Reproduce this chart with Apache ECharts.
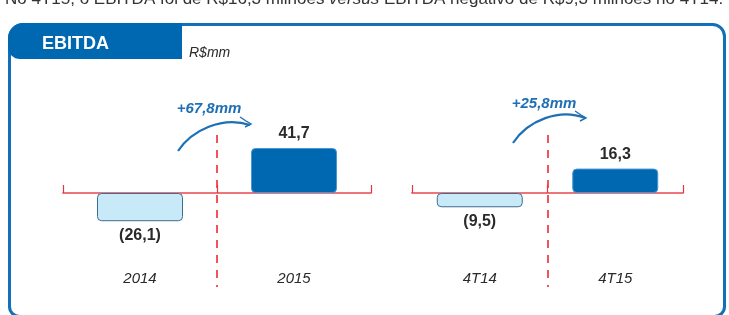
<!DOCTYPE html>
<html>
<head>
<meta charset="utf-8">
<script src="https://cdn.jsdelivr.net/npm/echarts@6/dist/echarts.min.js"></script>
<style>
  html, body { margin: 0; padding: 0; background: #fff; }
  #main { width: 729px; height: 315px; }
</style>
</head>
<body>
<div id="main"></div>
<script>
// dados
const anoCats = ['2014', '2015'];
const anoValores = [-26.1, 41.7];
const triCats = ['4T14', '4T15'];
const triValores = [-9.5, 16.3];

const RED = '#ee1c28';
const BLUE = '#0068b0';

// 41,7 / (26,1)
function fmt(v) {
  const s = Math.abs(v).toFixed(1).replace('.', ',');
  return v < 0 ? '(' + s + ')' : s;
}
function delta(arr) {
  return '+' + (arr[1] - arr[0]).toFixed(1).replace('.', ',') + 'mm';
}

function barData(vals) {
  return vals.map(v => ({
    value: v,
    itemStyle: v < 0
      ? { color: '#c8e9f8', borderColor: '#3c6e91', borderWidth: 1 }
      : { color: BLUE, borderColor: '#4a97d4', borderWidth: 1 },
    label: { position: v < 0 ? 'bottom' : 'top' }
  }));
}

// eixo da linha zero (linha vermelha + tracejado)
function xAxisFor(idx, cats) {
  return {
    type: 'category',
    gridIndex: idx,
    data: cats,
    axisLine: { onZero: true, lineStyle: { color: '#ef7479', width: 1.8 } },
    axisTick: { show: true, inside: true, length: 8, lineStyle: { color: '#e4363f', width: 1.2 } },
    axisLabel: { show: false },
    splitLine: {
      show: true,
      showMinLine: false,
      showMaxLine: false,
      lineStyle: { color: RED, width: 1.5, type: [8, 7] }
    }
  };
}

// eixo so para os rotulos das categorias
function labelAxisFor(idx, cats) {
  return {
    type: 'category',
    gridIndex: idx,
    data: cats,
    position: 'bottom',
    offset: -16,
    axisLine: { show: false, onZero: false },
    axisTick: { show: false },
    splitLine: { show: false },
    axisLabel: {
      margin: 0,
      color: '#2a2a2a',
      fontStyle: 'italic',
      fontSize: 15,
      fontFamily: 'Liberation Sans'
    }
  };
}

function serieFor(idx, vals) {
  return {
    type: 'bar',
    xAxisIndex: idx,
    yAxisIndex: idx,
    barWidth: 86,
    data: barData(vals),
    itemStyle: { borderRadius: 4 },
    label: {
      show: true,
      distance: 6,
      color: '#2a2a2a',
      fontWeight: 'bold',
      fontSize: 16,
      fontFamily: 'Liberation Sans',
      formatter: p => fmt(p.value)
    }
  };
}

const chart = echarts.init(document.getElementById('main'));
chart.setOption({
  animation: false,
  grid: [
    { left: 63, width: 308, top: 135, height: 152, outerBoundsMode: 'none', containLabel: false },
    { left: 412, width: 271, top: 135, height: 152, outerBoundsMode: 'none', containLabel: false }
  ],
  xAxis: [
    xAxisFor(0, anoCats), xAxisFor(1, triCats),
    labelAxisFor(0, anoCats), labelAxisFor(1, triCats)
  ],
  yAxis: [
    { type: 'value', gridIndex: 0, min: -87, max: 53.7, show: false },
    { type: 'value', gridIndex: 1, min: -62.7, max: 38.7, show: false }
  ],
  series: [serieFor(0, anoValores), serieFor(1, triValores)],
  graphic: [
    // texto cortado no topo
    {
      type: 'text', left: 5, top: -9,
      style: {
        text: '{n|No 4T15, o EBITDA foi de R$16,3 milhões }{i|versus}{n| EBITDA negativo de R$9,3 milhões no 4T14.}',
        rich: {
          n: { fontSize: 17, fontFamily: 'Liberation Sans', fill: '#333' },
          i: { fontSize: 17, fontFamily: 'Liberation Sans', fontStyle: 'italic', fill: '#333' }
        }
      }
    },
    // moldura
    {
      type: 'rect',
      shape: { x: 9.5, y: 24.5, width: 715, height: 292, r: [14, 12, 10, 10] },
      style: { fill: 'none', stroke: '#1170b8', lineWidth: 3 }
    },
    {
      type: 'rect',
      shape: { x: 8, y: 23, width: 174, height: 36, r: [15, 0, 0, 12] },
      style: { fill: BLUE }
    },
    {
      type: 'text', x: 42, y: 44,
      style: {
        text: 'EBITDA', fill: '#fff', fontSize: 18, fontWeight: 'bold',
        fontFamily: 'Liberation Sans', verticalAlign: 'middle'
      }
    },
    {
      type: 'text', x: 189, y: 53,
      style: {
        text: 'R$mm', fill: '#2a2a2a', fontSize: 14, fontStyle: 'italic',
        fontFamily: 'Liberation Sans', verticalAlign: 'middle'
      }
    },
    // setas de variacao
    {
      type: 'text', x: 209, y: 109,
      style: {
        text: delta(anoValores), fill: '#1f6fb5', fontSize: 15, fontWeight: 'bold',
        fontStyle: 'italic', fontFamily: 'Liberation Sans', align: 'center', verticalAlign: 'middle'
      }
    },
    {
      type: 'bezierCurve',
      shape: { x1: 178, y1: 151, cpx1: 192, cpy1: 130, cpx2: 222, cpy2: 116, x2: 250, y2: 125 },
      style: { stroke: '#1f6fb5', lineWidth: 2.2, fill: 'none' }
    },
    {
      type: 'polyline',
      shape: { points: [[240, 117], [246, 121], [251, 124], [245, 127]] },
      style: { stroke: '#1f6fb5', lineWidth: 1.4, fill: 'none' }
    },
    {
      type: 'text', x: 544, y: 104,
      style: {
        text: delta(triValores), fill: '#1f6fb5', fontSize: 15, fontWeight: 'bold',
        fontStyle: 'italic', fontFamily: 'Liberation Sans', align: 'center', verticalAlign: 'middle'
      }
    },
    {
      type: 'bezierCurve',
      shape: { x1: 513, y1: 143, cpx1: 528, cpy1: 120, cpx2: 560, cpy2: 108, x2: 585, y2: 118 },
      style: { stroke: '#1f6fb5', lineWidth: 2.2, fill: 'none' }
    },
    {
      type: 'polyline',
      shape: { points: [[575, 111], [581, 115], [586, 118], [580, 121]] },
      style: { stroke: '#1f6fb5', lineWidth: 1.4, fill: 'none' }
    }
  ]
});
</script>
</body>
</html>
